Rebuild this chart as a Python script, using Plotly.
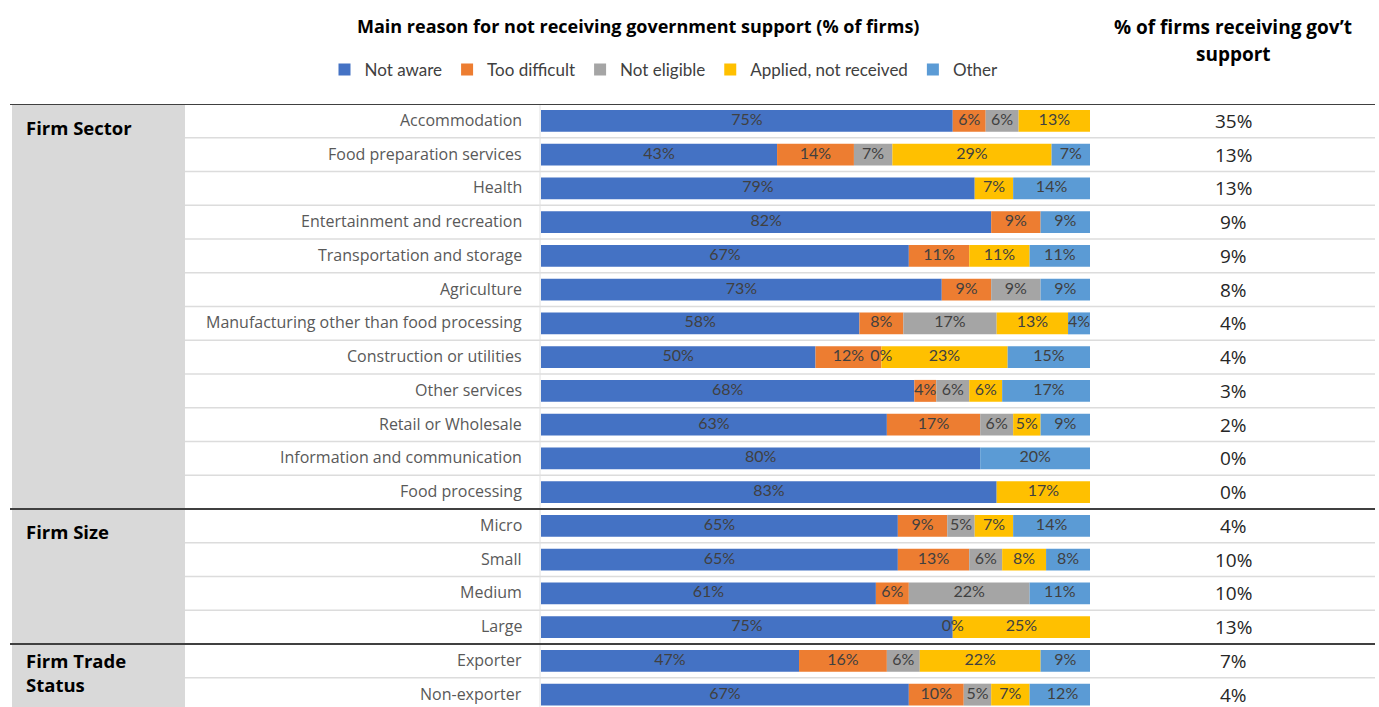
import plotly.graph_objects as go

categories = [
    "Accommodation", "Food preparation services", "Health", "Entertainment and recreation",
    "Transportation and storage", "Agriculture", "Manufacturing other than food processing",
    "Construction or utilities", "Other services", "Retail or Wholesale",
    "Information and communication", "Food processing",
    "Micro", "Small", "Medium", "Large", "Exporter", "Non-exporter",
]
not_aware = [75, 43, 79, 82, 67, 73, 58, 50, 68, 63, 80, 83, 65, 65, 61, 75, 47, 67]
too_difficult = [6, 14, None, 9, 11, 9, 8, 12, 4, 17, None, None, 9, 13, 6, 0, 16, 10]
not_eligible = [6, 7, None, None, None, 9, 17, 0, 6, 6, None, None, 5, 6, 22, None, 6, 5]
applied_not_received = [13, 29, 7, None, 11, None, 13, 23, 6, 5, None, 17, 7, 8, None, 25, 22, 7]
other = [None, 7, 14, 9, 11, 9, 4, 15, 17, 9, 20, None, 14, 8, 11, None, 9, 12]
pct_receiving = [35, 13, 13, 9, 9, 8, 4, 4, 3, 2, 0, 0, 4, 10, 10, 13, 7, 4]

groups = ["Firm Sector", "Firm Size", "Firm Trade<br>Status"]
group_sizes = [12, 4, 2]

series_names = ["Not aware", "Too difficult", "Not eligible", "Applied, not received", "Other"]
series_values = [not_aware, too_difficult, not_eligible, applied_not_received, other]
series_colors = ["#4472C4", "#ED7D31", "#A5A5A5", "#FFC000", "#5B9BD5"]

main_title = "Main reason for not receiving government support (% of firms)"
right_title_lines = ["% of firms receiving gov’t", "support"]

W, H = 1379, 707
TOP = 104  # pixel of table top line
ROW_PX = 33.75
n = len(categories)
rows = list(range(n))
y_bottom = -0.5 + (H - TOP) / ROW_PX

def px_x(p):
    return p / W

def px_y(p):
    return 1 - p / H

fig = go.Figure()

# stacked bars + centred labels
cum = [0.0] * n
for name, vals, col in zip(series_names, series_values, series_colors):
    base = list(cum)
    xs = [v if v is not None else 0 for v in vals]
    fig.add_trace(go.Bar(
        y=rows, x=xs, base=base, orientation="h", name=name,
        marker=dict(color=col, line=dict(width=0)), width=0.65,
        hoverinfo="skip",
    ))
    lx, ly, lt = [], [], []
    for i, v in enumerate(vals):
        if v is not None:
            lx.append(base[i] + v / 2)
            ly.append(i)
            lt.append(f"{v}%")
    fig.add_trace(go.Scatter(
        x=lx, y=ly, text=lt, mode="text", showlegend=False, hoverinfo="skip",
        textfont=dict(family="Lato", size=16, color="#404040"), cliponaxis=False,
    ))
    cum = [c + x for c, x in zip(cum, xs)]

shapes = []
# grey section column
shapes.append(dict(type="rect", xref="paper", yref="paper", x0=px_x(12), x1=px_x(185),
                   y0=0, y1=px_y(TOP), fillcolor="#D9D9D9", line=dict(width=0), layer="below"))
# light row separators
boundaries_dark = set()
acc = 0
for s in group_sizes:
    boundaries_dark.add(acc)
    acc += s
for b in range(1, n):
    if b not in boundaries_dark:
        shapes.append(dict(type="line", xref="paper", yref="y", x0=px_x(185), x1=px_x(1375),
                           y0=b - 0.5, y1=b - 0.5, line=dict(color="#DCDCDC", width=1.5), layer="below"))
# vertical light line
shapes.append(dict(type="line", xref="paper", yref="paper", x0=px_x(540), x1=px_x(540),
                   y0=0, y1=px_y(TOP), line=dict(color="#E0E0E0", width=1), layer="below"))
# dark group lines
for b in sorted(boundaries_dark):
    shapes.append(dict(type="line", xref="paper", yref="y", x0=px_x(10), x1=px_x(1375),
                       y0=b - 0.5, y1=b - 0.5, line=dict(color="#404040", width=2)))

annotations = []
for i, c in enumerate(categories):
    annotations.append(dict(text=c, xref="paper", yref="y", x=px_x(524), y=i - 0.03,
                            xanchor="right", yanchor="middle", showarrow=False,
                            font=dict(family="Open Sans", size=16, color="#595959")))
    annotations.append(dict(text=f"{pct_receiving[i]}%", xref="paper", yref="y", x=px_x(1233), y=i,
                            xanchor="center", yanchor="middle", showarrow=False,
                            font=dict(family="Open Sans", size=19, color="#262626")))

group_y = [0.2, 12.18, 16.34]
for g, gy in zip(groups, group_y):
    annotations.append(dict(text=g, xref="paper", yref="y", x=px_x(24), y=gy,
                            xanchor="left", yanchor="middle", align="left", showarrow=False,
                            font=dict(family="Open Sans", size=18.5, color="#000000", weight="bold")))

annotations.append(dict(text=main_title,
                        xref="paper", yref="paper", x=px_x(638), y=px_y(26),
                        xanchor="center", yanchor="middle", showarrow=False,
                        font=dict(family="Open Sans", size=18, color="#000000", weight="bold")))
for line_text, py in zip(right_title_lines, [27, 54]):
    annotations.append(dict(text=line_text,
                            xref="paper", yref="paper", x=px_x(1233), y=px_y(py),
                            xanchor="center", yanchor="middle", showarrow=False,
                            font=dict(family="Open Sans", size=19, color="#000000", weight="bold")))

fig.update_layout(
    width=W, height=H,
    margin=dict(l=0, r=0, t=0, b=0),
    paper_bgcolor="white", plot_bgcolor="rgba(0,0,0,0)",
    barmode="overlay",
    showlegend=True,
    legend=dict(orientation="h", x=px_x(664), xanchor="center", y=px_y(70), yanchor="middle",
                font=dict(family="Lato", size=17, color="#404040"), traceorder="normal",
                itemclick=False, itemdoubleclick=False),
    xaxis=dict(domain=[px_x(541), px_x(1090)], range=[0, 100], visible=False, fixedrange=True),
    yaxis=dict(domain=[0, px_y(TOP)], range=[y_bottom, -0.5], visible=False, fixedrange=True),
    shapes=shapes,
    annotations=annotations,
)

fig.write_html("out.html")
